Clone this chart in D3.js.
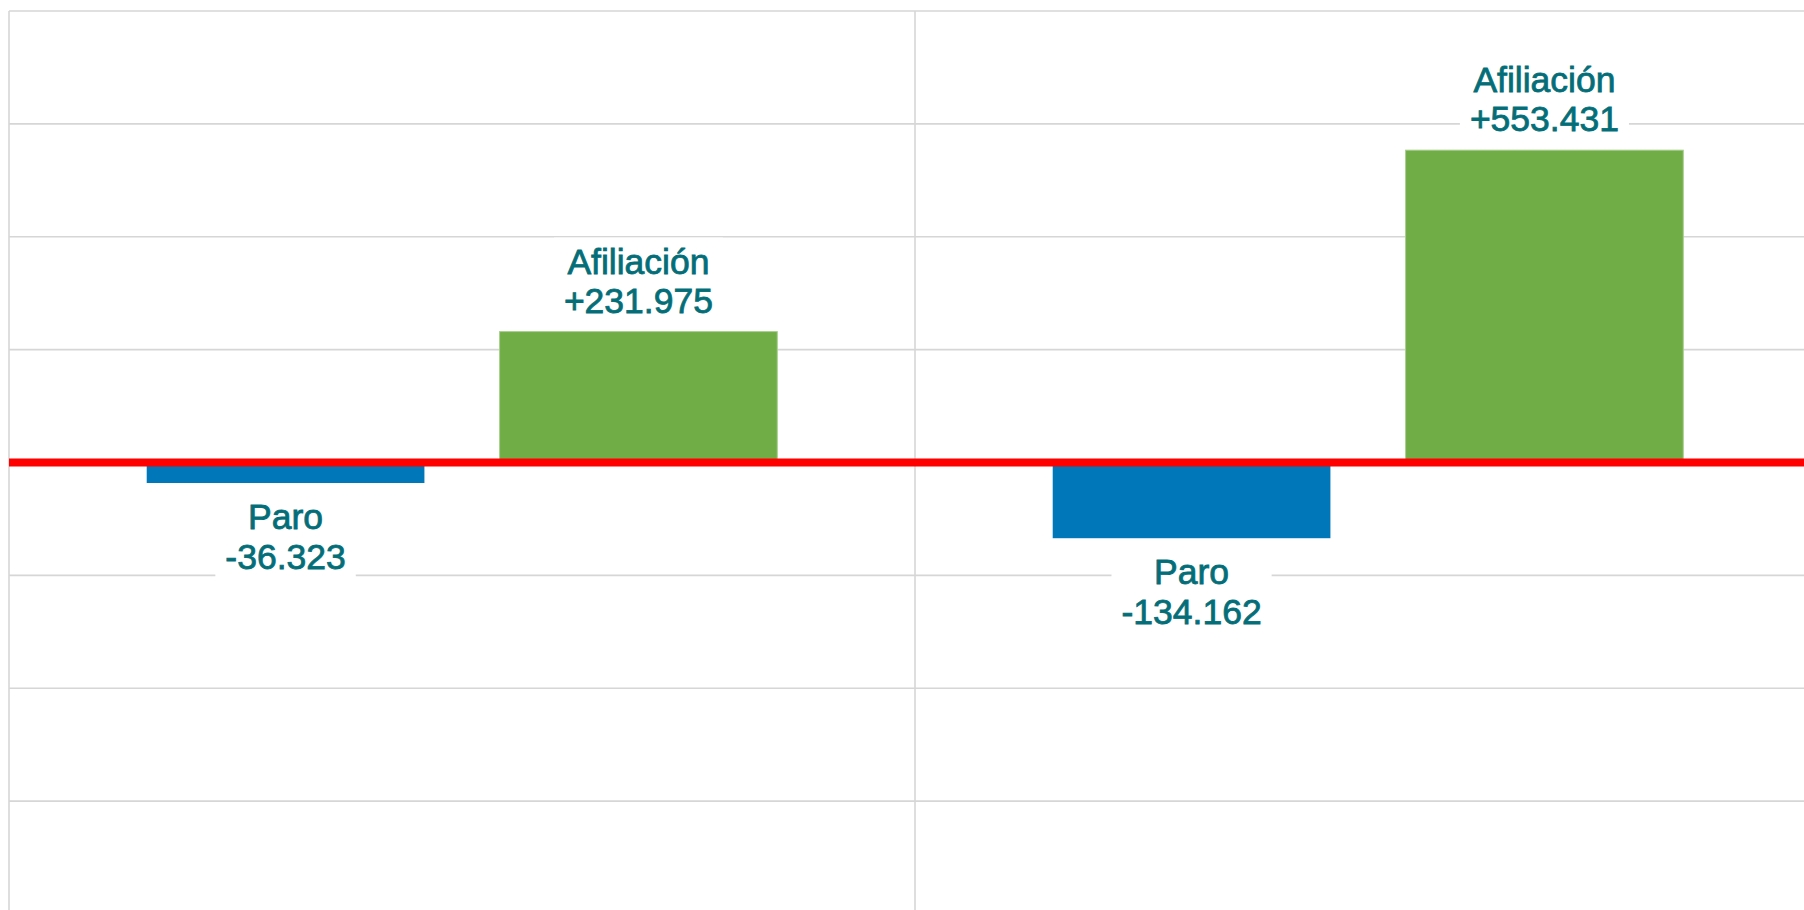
<!DOCTYPE html>
<html>
<head>
<meta charset="utf-8">
<script src="https://cdn.jsdelivr.net/npm/d3@7"></script>
<style>
  body { margin: 0; background: #fff; }
  svg { display: block; }
  .label { font-family: "Liberation Sans", Arial, sans-serif; font-size: 35.5px; fill: #046e78; stroke: #046e78; stroke-width: 0.8px; }
</style>
</head>
<body>
<div id="chart"></div>
<script>
// chart data
var categories = ["Periodo 1", "Periodo 2"];
var series = ["Paro", "Afiliación"];
var paroValues = [-36323, -134162];
var afiliacionValues = [231975, 553431];
var yTicks = [-800000, -600000, -400000, -200000, 0, 200000, 400000, 600000, 800000];
var seriesColors = ["#0077b9", "#70ad47"];

var svgWidth = 1804;
var svgHeight = 910;

var margin = { top: 11, left: 9 };

var svg = d3.select("#chart")
  .append("svg")
  .attr("width", svgWidth)
  .attr("height", svgHeight);

// y scale runs a little past the bottom of the window, like the original
var yScale = d3.scaleLinear()
  .domain([d3.min(yTicks), d3.max(yTicks)])
  .range([914, margin.top]);

// one band per category, the second one runs off the right edge
var x0 = d3.scaleBand()
  .domain(categories)
  .range([margin.left, margin.left + 2 * 906]);

var bw = x0.bandwidth();
var x1 = d3.scaleBand()
  .domain(series)
  .range([bw * 0.152, bw * 0.848])
  .paddingInner(0.213);

// spanish number format: +231.975 / -36.323
var es = d3.formatLocale({ decimal: ",", thousands: ".", grouping: [3], currency: ["", " €"], minus: "-" });
var fmt = es.format("+,");

// horizontal grid lines
svg.append("g")
  .selectAll("line")
  .data(yTicks)
  .enter()
  .append("line")
  .attr("x1", margin.left)
  .attr("x2", svgWidth)
  .attr("y1", d => yScale(d))
  .attr("y2", d => yScale(d))
  .attr("stroke", "#d6d6d6")
  .attr("stroke-width", 1.6);

// vertical lines at category edges
var edges = categories.map(c => x0(c));
svg.append("g")
  .selectAll("line")
  .data(edges)
  .enter()
  .append("line")
  .attr("x1", d => d)
  .attr("x2", d => d)
  .attr("y1", margin.top)
  .attr("y2", svgHeight)
  .attr("stroke", "#d6d6d6")
  .attr("stroke-width", 1.6);

// flatten to rows
var rows = [];
categories.forEach(function(cat, i) {
  rows.push({ cat: cat, key: series[0], value: paroValues[i], color: seriesColors[0] });
  rows.push({ cat: cat, key: series[1], value: afiliacionValues[i], color: seriesColors[1] });
});

svg.append("g")
  .selectAll("rect")
  .data(rows)
  .enter()
  .append("rect")
  .attr("x", d => x0(d.cat) + x1(d.key))
  .attr("width", x1.bandwidth())
  .attr("y", d => yScale(Math.max(0, d.value)))
  .attr("height", d => Math.abs(yScale(d.value) - yScale(0)))
  .attr("fill", d => d.color)
  .attr("stroke", d => d.value > 0 ? "#a8cf8e" : "none")
  .attr("stroke-width", 1);

// labels with a white box behind them
var labels = svg.append("g")
  .selectAll("g")
  .data(rows)
  .enter()
  .append("g");

labels.each(function(d) {
  var g = d3.select(this);
  var cx = x0(d.cat) + x1(d.key) + x1.bandwidth() / 2;
  var b1, b2;
  if (d.value >= 0) {
    b2 = yScale(d.value) - 19;
    b1 = b2 - 39;
  } else {
    b1 = yScale(d.value) + 46;
    b2 = b1 + 40;
  }
  var t = g.append("text")
    .attr("class", "label")
    .attr("text-anchor", "middle");
  t.append("tspan").attr("x", cx).attr("y", b1).text(d.key);
  t.append("tspan").attr("x", cx).attr("y", b2).text(fmt(d.value));

  var box = t.node().getBBox();
  g.insert("rect", "text")
    .attr("x", box.x - 10)
    .attr("y", box.y - 4)
    .attr("width", box.width + 20)
    .attr("height", box.height + 8)
    .attr("fill", "#fff");
});

// red zero line on top
svg.append("line")
  .attr("x1", margin.left)
  .attr("x2", svgWidth)
  .attr("y1", yScale(0))
  .attr("y2", yScale(0))
  .attr("stroke", "#ff0000")
  .attr("stroke-width", 8);
</script>
</body>
</html>
